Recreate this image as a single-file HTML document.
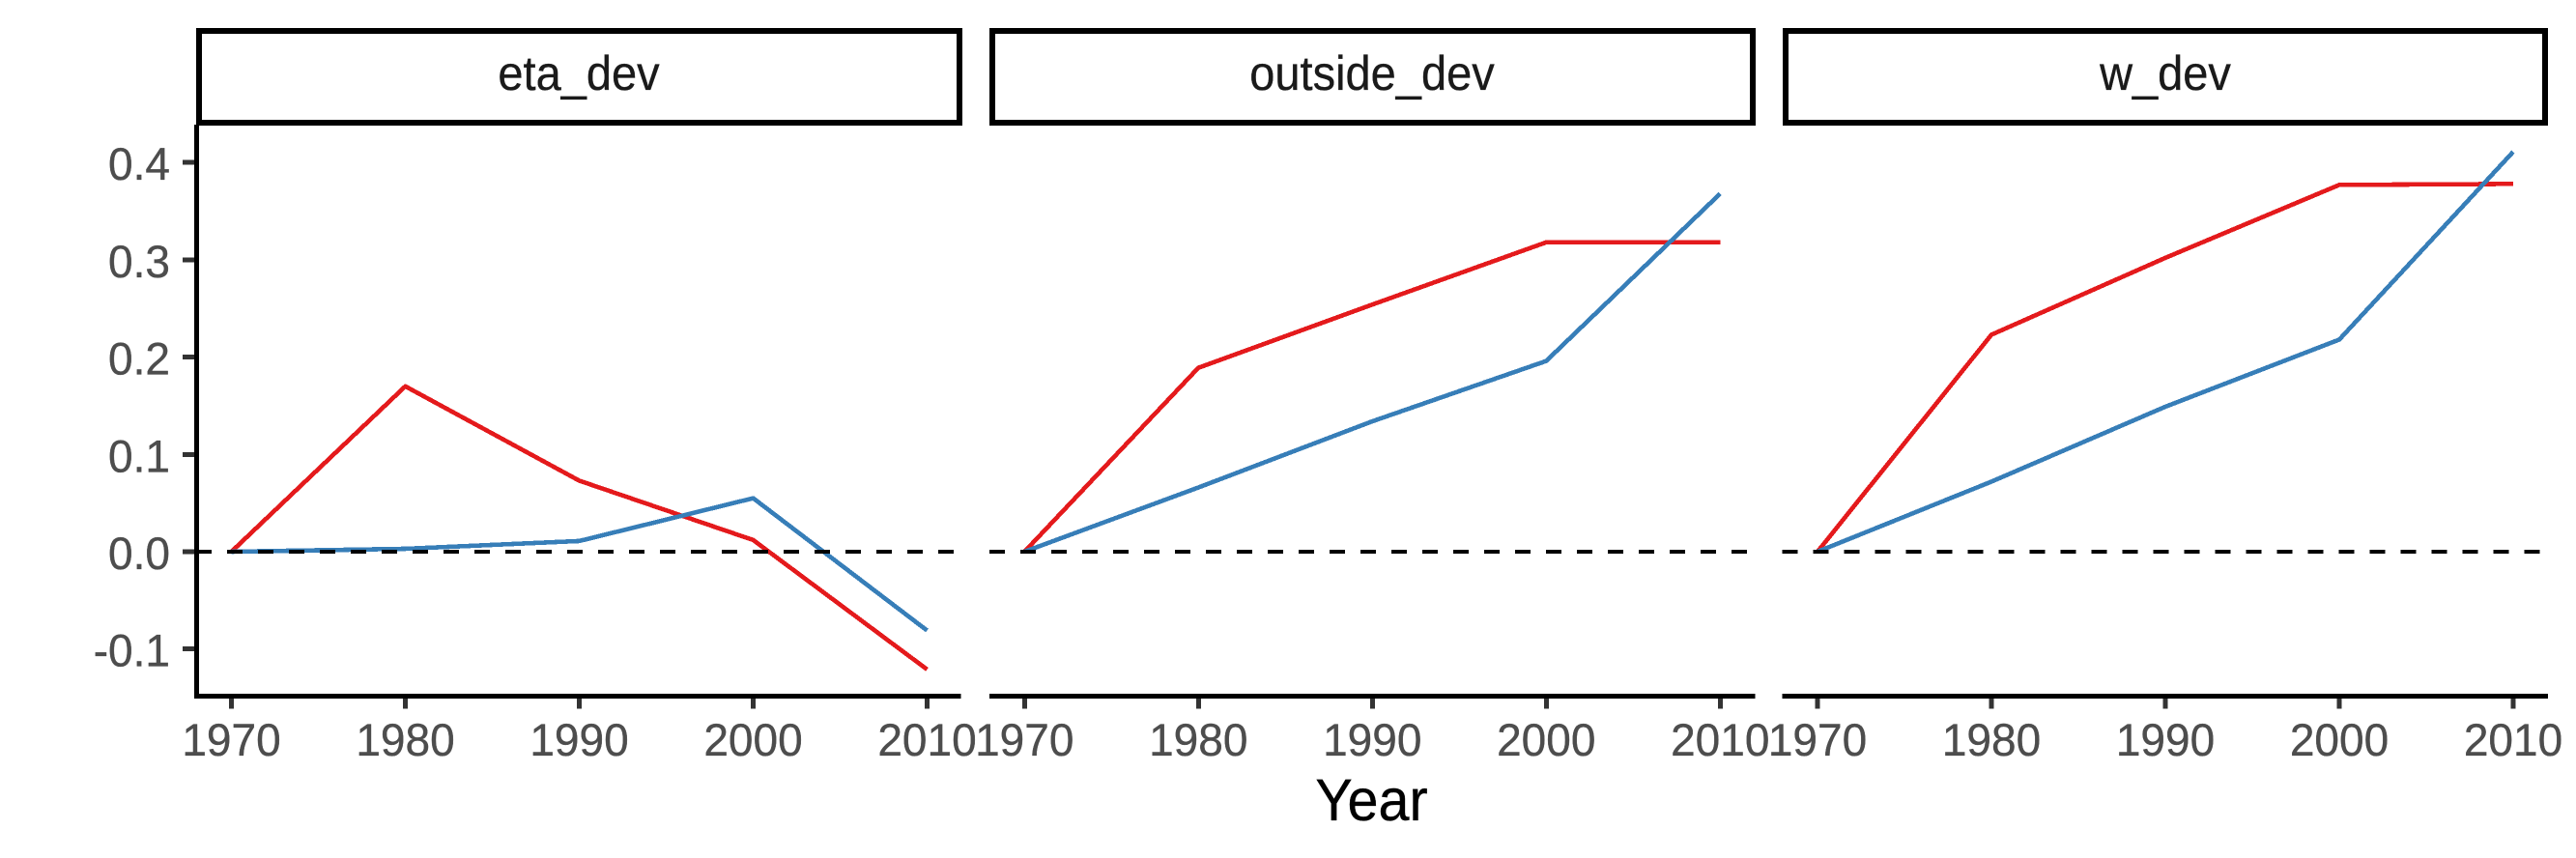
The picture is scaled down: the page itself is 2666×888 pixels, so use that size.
<!DOCTYPE html>
<html lang="en">
<head>
<meta charset="utf-8">
<title>Deviation by year, three panels</title>
<style>
  html, body { margin: 0; padding: 0; background: #fff; }
  body { width: 2666px; height: 888px; overflow: hidden; }
  svg { display: block; }
  text { font-family: "Liberation Sans", Arial, sans-serif; }
  .tick-label { font-size: 46px; fill: #4d4d4d; stroke: #4d4d4d; stroke-width: 0.35px; }
  .strip-label { font-size: 47px; fill: #1a1a1a; stroke: #1a1a1a; stroke-width: 0.3px; text-anchor: middle; }
  .axis-title { font-size: 57.5px; fill: #000; stroke: #000; stroke-width: 0.3px; text-anchor: middle; }
  .crisp { shape-rendering: crispEdges; }
</style>
</head>
<body>
<svg id="chart" xmlns="http://www.w3.org/2000/svg" width="2666" height="888" viewBox="0 0 2666 888">
  <rect x="0" y="0" width="2666" height="888" fill="#ffffff"/>

  <g class="crisp">
    <rect x="206" y="32" width="787" height="95" fill="#fff" stroke="#000" stroke-width="6"/>
    <rect x="1027" y="32" width="787" height="95" fill="#fff" stroke="#000" stroke-width="6"/>
    <rect x="1848" y="32" width="786" height="95" fill="#fff" stroke="#000" stroke-width="6"/>
  </g>
  <text class="strip-label" transform="translate(599 93) scale(1 1.06)">eta_dev</text>
  <text class="strip-label" transform="translate(1420 93) scale(1 1.06)">outside_dev</text>
  <text class="strip-label" transform="translate(2241 93) scale(1 1.06)">w_dev</text>

  <g id="axes"></g>
  <g id="marks"></g>
  <g id="ref-lines"></g>

  <text class="axis-title" transform="translate(1419.5 849) scale(1 1.06)">Year</text>
</svg>

<script>
const years = [1970, 1980, 1990, 2000, 2010];
const xTickLabels = ['1970', '1980', '1990', '2000', '2010'];
const yTicks = [-0.1, 0, 0.1, 0.2, 0.3, 0.4];
const yTickLabels = ['-0.1', '0.0', '0.1', '0.2', '0.3', '0.4'];
const panelNames = ['eta-dev', 'outside-dev', 'w-dev'];

const etaRed = [0, 0.170, 0.073, 0.012, -0.121];
const etaBlue = [0, 0.003, 0.011, 0.055, -0.081];
const outsideRed = [0, 0.189, 0.254, 0.318, 0.318];
const outsideBlue = [0, 0.066, 0.134, 0.196, 0.368];
const wRed = [0, 0.223, 0.302, 0.377, 0.378];
const wBlue = [0, 0.072, 0.149, 0.218, 0.411];

const redSeries = [etaRed, outsideRed, wRed];
const blueSeries = [etaBlue, outsideBlue, wBlue];

const SVG_NS = 'http://www.w3.org/2000/svg';
const RED = '#e41a1c';
const BLUE = '#377eb8';
const LINE_WIDTH = 4.6;
const yearSpan = years[years.length - 1] - years[0];

function panelLeft(i) { return 203 + i * 820.75; }
function panelRight(i) { return panelLeft(i) + 792.5; }
function xScale(i, year) {
  const start = panelLeft(i) + 36.5;
  return start + (year - years[0]) / yearSpan * 720;
}
function yScale(v) { return 571 - v * 1007; }

function make(tag, attrs) {
  const el = document.createElementNS(SVG_NS, tag);
  for (const k in attrs) el.setAttribute(k, attrs[k]);
  return el;
}

const axes = document.getElementById('axes');
const marks = document.getElementById('marks');
const refLines = document.getElementById('ref-lines');

panelNames.forEach(function (name, i) {
  const xAxis = make('rect', { x: panelLeft(i) - (i === 0 ? 2 : 0), y: 718, width: panelRight(i) - panelLeft(i) + (i === 0 ? 1 : 0), height: 5, fill: '#000', class: 'crisp' });
  
  
  axes.appendChild(xAxis);

  years.forEach(function (yr, j) {
    const tick = make('rect', { x: xScale(i, yr) - 2.5, y: 723, width: 5, height: 10.5, fill: '#333', class: 'crisp' });
    
    
    axes.appendChild(tick);

    const label = make('text', { transform: 'translate(' + xScale(i, yr) + ' 782) scale(1 1.03)', class: 'tick-label', 'text-anchor': 'middle' });
    label.textContent = xTickLabels[j];
    
    
    axes.appendChild(label);
  });

  const red = make('polyline', {
    points: years.map(function (yr, j) { return xScale(i, yr) + ',' + yScale(redSeries[i][j]); }).join(' '),
    fill: 'none', stroke: RED, 'stroke-width': LINE_WIDTH, 'stroke-linejoin': 'round', 'stroke-linecap': 'butt', class: 'crisp'
  });
  
  
  marks.appendChild(red);

  const blue = make('polyline', {
    points: years.map(function (yr, j) { return xScale(i, yr) + ',' + yScale(blueSeries[i][j]); }).join(' '),
    fill: 'none', stroke: BLUE, 'stroke-width': LINE_WIDTH, 'stroke-linejoin': 'round', 'stroke-linecap': 'butt', class: 'crisp'
  });
  
  
  marks.appendChild(blue);

  const zero = make('line', {
    x1: panelLeft(i), x2: panelRight(i), y1: yScale(0), y2: yScale(0),
    stroke: '#000', 'stroke-width': 4, 'stroke-dasharray': '16 16', class: 'crisp'
  });
  
  
  refLines.appendChild(zero);
});

const yAxis = make('rect', { x: 201, y: 129, width: 5, height: 594, fill: '#000', class: 'crisp' });


axes.appendChild(yAxis);

yTicks.forEach(function (v, j) {
  const tick = make('rect', { x: 189, y: yScale(v) - 2.5, width: 12, height: 5, fill: '#333', class: 'crisp' });
  
  
  axes.appendChild(tick);

  const label = make('text', { transform: 'translate(176 ' + (yScale(v) + 18) + ') scale(1 1.03)', class: 'tick-label', 'text-anchor': 'end' });
  label.textContent = yTickLabels[j];
  
  
  axes.appendChild(label);
});
</script>
</body>
</html>
